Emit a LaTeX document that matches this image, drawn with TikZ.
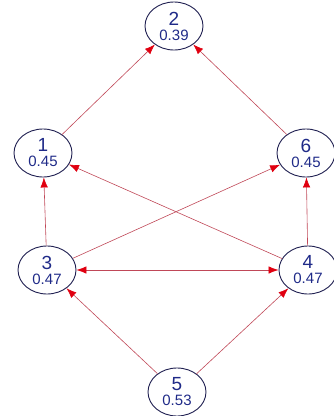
\documentclass[tikz,border=0pt]{standalone}
\usepackage{fontspec}
\setmainfont{Liberation Sans}
\usetikzlibrary{shapes.geometric,arrows.meta}
\definecolor{nodeline}{HTML}{1E1E50}
\definecolor{nodetext}{HTML}{1F2A88}
\definecolor{edgecol}{HTML}{C04858}
\definecolor{headcol}{HTML}{E00010}
\begin{document}
\begin{tikzpicture}[x=1pt,y=-1pt,
  vnode/.style={ellipse,draw=nodeline,line width=0.9pt,minimum width=58pt,minimum height=48pt,inner sep=0pt,text=nodetext,align=center,font=\fontsize{19}{16}\selectfont},
  edge/.style={draw=edgecol,line width=0.6pt,-{Latex[length=10pt,width=7.5pt,color=headcol]}},
  dedge/.style={draw=edgecol,line width=0.6pt,{Latex[length=10pt,width=7.5pt,color=headcol]}-{Latex[length=10pt,width=7.5pt,color=headcol]}}]
\useasboundingbox (0,0) rectangle (334,416);
\newcommand{\vlab}[2]{#1\\[-1pt]{\fontsize{15}{15}\selectfont #2}}
\node[vnode] (n2) at (174,26) {\vlab{2}{0.39}};
\node[vnode] (n1) at (43,153) {\vlab{1}{0.45}};
\node[vnode] (n6) at (306,153) {\vlab{6}{0.45}};
\node[vnode] (n3) at (47,270) {\vlab{3}{0.47}};
\node[vnode] (n4) at (308,270) {\vlab{4}{0.47}};
\node[vnode] (n5) at (177,392) {\vlab{5}{0.53}};
\draw[edge] (n1) -- (n2);
\draw[edge] (n6) -- (n2);
\draw[edge] (n3) -- (n1);
\draw[edge] (n4) -- (n6);
\draw[edge] (n4) -- (n1);
\draw[edge] (n3) -- (n6);
\draw[dedge] (n3) -- (n4);
\draw[edge] (n5) -- (n3);
\draw[edge] (n5) -- (n4);
\end{tikzpicture}
\end{document}
